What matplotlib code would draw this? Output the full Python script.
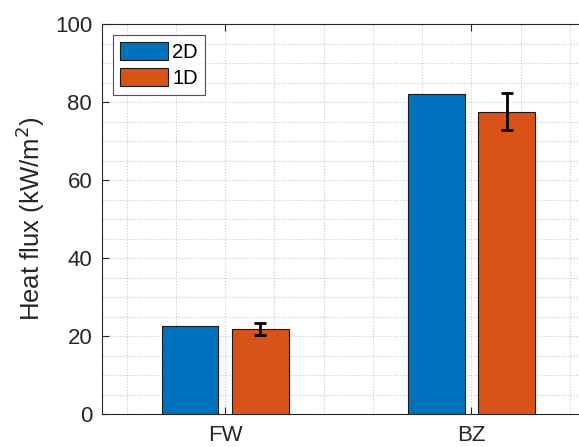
import matplotlib.pyplot as plt
from matplotlib.ticker import MultipleLocator
import numpy as np

categories = ['FW', 'BZ']
series = ['2D', '1D']
flux_2d = [22.6, 82.0]
flux_1d = [21.8, 77.5]
err_1d = [1.5, 4.8]

colors = ['#0072BD', '#D95319']

plt.rcParams['font.family'] = ['Liberation Sans', 'DejaVu Sans']

fig = plt.figure(figsize=(5.79, 4.47), dpi=100)
ax = fig.add_axes([0.176, 0.0738, 0.851, 0.8725])

x = np.arange(1, len(categories) + 1)
width = 0.23
off = 0.143

ax.bar(x - off, flux_2d, width, color=colors[0], edgecolor='#1a1a1a', linewidth=0.8,
       label=series[0], zorder=3)
ax.bar(x + off, flux_1d, width, color=colors[1], edgecolor='#1a1a1a', linewidth=0.8,
       label=series[1], zorder=3)
ax.errorbar(x + off, flux_1d, yerr=err_1d, fmt='none', ecolor='black', elinewidth=2,
            capsize=4, capthick=2, zorder=4)

ax.set_xlim(0.5, 2.5)
ax.set_ylim(0, 100)
ax.set_xticks(x)
ax.set_xticklabels(categories)
ax.xaxis.set_minor_locator(MultipleLocator(0.2))
ax.yaxis.set_major_locator(MultipleLocator(20))
ax.yaxis.set_minor_locator(MultipleLocator(5))

ax.grid(True, which='both', linestyle=':', color='#c8c8c8', linewidth=0.8, zorder=0)
ax.set_axisbelow(True)
ax.tick_params(which='major', direction='in', length=5, width=0.8, colors='#262626',
               labelsize=16, top=True, right=True)
ax.tick_params(axis='y', pad=7)
ax.tick_params(axis='x', pad=8)
ax.tick_params(which='minor', length=0)
for s in ax.spines.values():
    s.set_color('#262626')
    s.set_linewidth(0.8)

ax.set_ylabel('Heat flux (kW/m$^2$)', fontsize=18.5, color='#262626', labelpad=6)

leg = ax.legend(loc='upper left', fontsize=14.5, frameon=True, fancybox=False,
                edgecolor='#262626', handlelength=2.4, handleheight=1.0,
                borderaxespad=0.55, handletextpad=0.2, borderpad=0.35, labelspacing=0.3)
leg.get_frame().set_linewidth(0.8)

fig.savefig('out.png', dpi=100)
